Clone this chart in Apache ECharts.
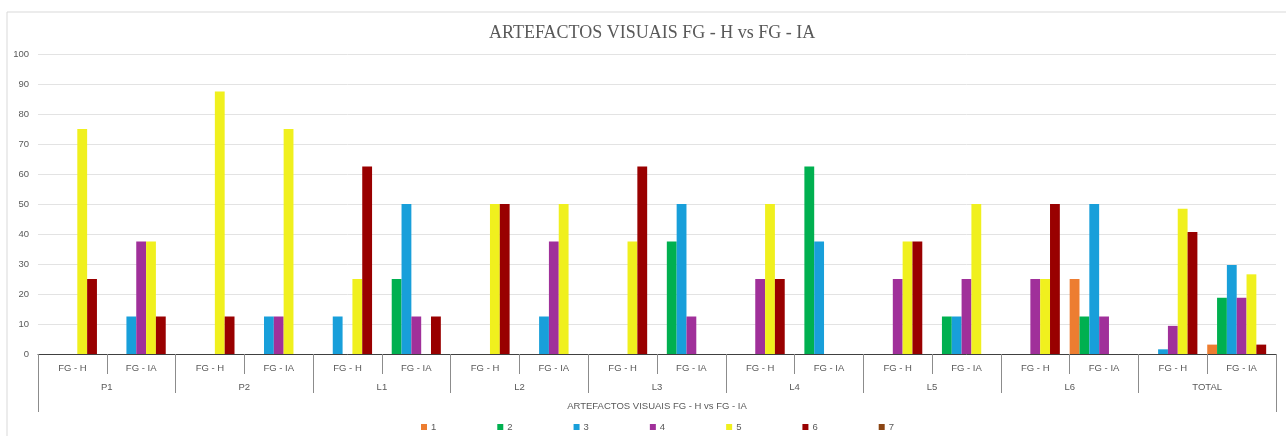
<!DOCTYPE html>
<html>
<head>
<meta charset="utf-8">
<script src="https://cdn.jsdelivr.net/npm/echarts@6/dist/echarts.min.js"></script>
<style>
  html, body { margin: 0; padding: 0; background: #fff; }
  #chart { width: 1286px; height: 436px; }
</style>
</head>
<body>
<div id="chart"></div>
<script>
// Sub-categories (one per bar cluster) and their parent groups
const subCategories = ['FG - H', 'FG - IA', 'FG - H', 'FG - IA', 'FG - H', 'FG - IA', 'FG - H', 'FG - IA',
  'FG - H', 'FG - IA', 'FG - H', 'FG - IA', 'FG - H', 'FG - IA', 'FG - H', 'FG - IA', 'FG - H', 'FG - IA'];
const groups = ['P1', 'P2', 'L1', 'L2', 'L3', 'L4', 'L5', 'L6', 'TOTAL'];
const axisTitle = 'ARTEFACTOS VISUAIS FG - H vs FG - IA';
const yTicks = { min: 0, max: 100, interval: 10 };

// Percentages per artefact type (1..7), in sub-category order
const s1 = [0, 0, 0, 0, 0, 0, 0, 0, 0, 0, 0, 0, 0, 0, 0, 25, 0, 3.13];
const s2 = [0, 0, 0, 0, 0, 25, 0, 0, 0, 37.5, 0, 62.5, 0, 12.5, 0, 12.5, 0, 18.75];
const s3 = [0, 12.5, 0, 12.5, 12.5, 50, 0, 12.5, 0, 50, 0, 37.5, 0, 12.5, 0, 50, 1.56, 29.69];
const s4 = [0, 37.5, 0, 12.5, 0, 12.5, 0, 37.5, 0, 12.5, 25, 0, 25, 25, 25, 12.5, 9.38, 18.75];
const s5 = [75, 37.5, 87.5, 75, 25, 0, 50, 50, 37.5, 0, 50, 0, 37.5, 50, 25, 0, 48.44, 26.56];
const s6 = [25, 12.5, 12.5, 0, 62.5, 12.5, 50, 0, 62.5, 0, 25, 0, 37.5, 0, 50, 0, 40.63, 3.13];
const s7 = [0, 0, 0, 0, 0, 0, 0, 0, 0, 0, 0, 0, 0, 0, 0, 0, 0, 0];

const seriesNames = ['1', '2', '3', '4', '5', '6', '7'];
const seriesData = [s1, s2, s3, s4, s5, s6, s7];
const colors = ['#ED7D31', '#00B050', '#189FDA', '#A0309A', '#F0F01E', '#990000', '#8B4513'];

const labelFont = "'Liberation Sans Narrow', 'Liberation Sans', Arial, sans-serif";
const textColor = '#595959';
const sepColor = '#8c8c8c';

const chart = echarts.init(document.getElementById('chart'), null, { renderer: 'canvas' });

const option = {
  animation: false,
  color: colors,
  title: {
    text: 'ARTEFACTOS VISUAIS FG - H vs FG - IA',
    left: 484,
    top: 19,
    textStyle: {
      fontFamily: "'Liberation Serif', 'Times New Roman', serif",
      fontSize: 18,
      fontWeight: 'normal',
      color: textColor
    }
  },
  graphic: [{
    type: 'rect',
    shape: { x: 7, y: 12, width: 1300, height: 460 },
    style: { fill: 'none', stroke: '#d9d9d9', lineWidth: 1 },
    silent: true,
    z: -10
  }],
  legend: {
    top: 417,
    left: 416,
    itemWidth: 6,
    itemHeight: 6,
    itemGap: 61,
    icon: 'rect',
    textStyle: { fontFamily: labelFont, fontSize: 9.5, color: textColor, padding: [0, 0, 0, -1] },
    data: seriesNames
  },
  grid: { left: 38, right: 10, top: 54, bottom: 82, containLabel: false },
  xAxis: [
    {
      type: 'category',
      data: subCategories,
      position: 'bottom',
      axisLine: { show: true, lineStyle: { color: '#404040', width: 1 } },
      axisTick: { show: true, interval: 0, length: 20, lineStyle: { color: sepColor } },
      axisLabel: { interval: 0, margin: 9, fontFamily: labelFont, fontSize: 9.5, color: textColor },
      splitLine: { show: false }
    },
    {
      type: 'category',
      data: groups,
      position: 'bottom',
      axisLine: { show: false },
      axisTick: { show: true, interval: 0, length: 39, lineStyle: { color: sepColor } },
      axisLabel: { interval: 0, margin: 28, fontFamily: labelFont, fontSize: 9.5, color: textColor },
      splitLine: { show: false }
    },
    {
      type: 'category',
      data: [axisTitle],
      position: 'bottom',
      axisLine: { show: false },
      axisTick: { show: true, interval: 0, length: 58, lineStyle: { color: sepColor } },
      axisLabel: { interval: 0, margin: 47, fontFamily: labelFont, fontSize: 9.5, color: textColor },
      splitLine: { show: false }
    }
  ],
  yAxis: {
    type: 'value',
    min: yTicks.min,
    max: yTicks.max,
    interval: yTicks.interval,
    axisLine: { show: false },
    axisTick: { show: false },
    axisLabel: { margin: 9, fontFamily: labelFont, fontSize: 9.5, color: textColor },
    splitLine: { show: true, lineStyle: { color: '#e3e3e3', width: 1 } }
  },
  series: seriesNames.map((name, i) => ({
    name: name,
    type: 'bar',
    xAxisIndex: 0,
    data: seriesData[i],
    barGap: '0%',
    barCategoryGap: '0%',
    itemStyle: { color: colors[i] }
  }))
};

chart.setOption(option);
</script>
</body>
</html>
